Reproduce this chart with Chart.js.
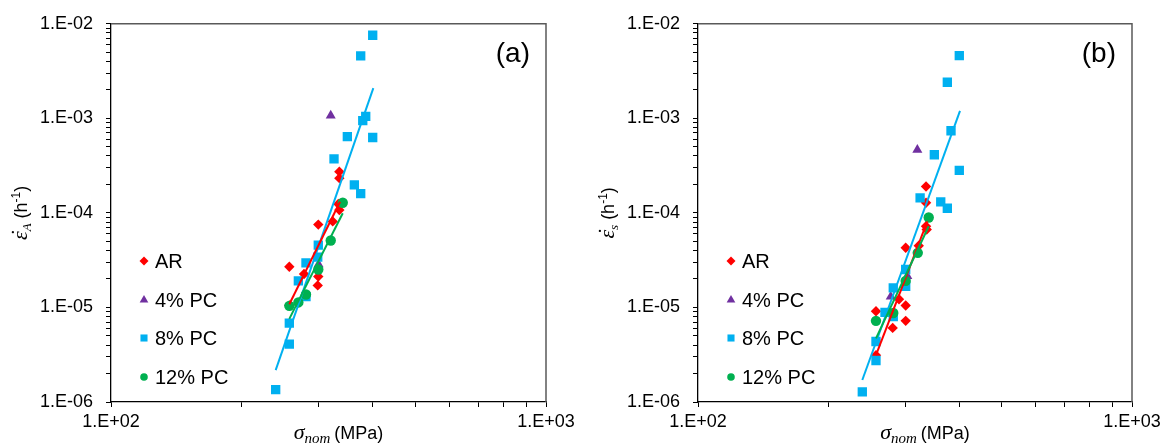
<!DOCTYPE html>
<html>
<head>
<meta charset="utf-8">
<script src="https://cdn.jsdelivr.net/npm/chart.js@4.4.1/dist/chart.umd.min.js"></script>
<style>
  html, body { margin: 0; padding: 0; background: #fff; }
  #wrap { position: relative; width: 1175px; height: 447px; }
  canvas { position: absolute; top: 0; }
</style>
</head>
<body>
<div id="wrap">
  <canvas id="chartA" width="587" height="447" style="left:0"></canvas>
  <canvas id="chartB" width="588" height="447" style="left:587px"></canvas>
</div>
<script>
// Серии (порядок как в легенде)
const seriesNames = ['AR', '4% PC', '8% PC', '12% PC'];
const seriesColors = ['#FF0000', '#7030A0', '#00B0F0', '#00B050'];
const seriesShapes = ['rectRot', 'triangle', 'rect', 'circle'];
const seriesRadius = [5.2, 5.8, 6.6, 5.2];

// Оси: декады (подписи только на них)
const xDecades = [2, 3];           // 1.E+02 .. 1.E+03
const yDecades = [-6, -5, -4, -3, -2];

// (a) точки [sigma_nom, скорость]
const aAR = [[257.0, 2.69e-5], [257.0, 1.05e-5], [277.8, 2.26e-5], [299.6, 7.52e-5],
  [299.6, 2.12e-5], [298.7, 1.71e-5], [323.4, 8.13e-5], [333.1, 1.24e-4],
  [334.9, 1.07e-4], [334.9, 2.73e-4], [334.9, 2.33e-4]];
const aPC4 = [[320.0, 1.07e-3], [300.0, 2.86e-5]];
const aPC8 = [[239.1, 1.35e-6], [257.0, 4.09e-6], [257.0, 6.84e-6], [269.6, 1.91e-5],
  [280.7, 2.96e-5], [280.7, 1.30e-5], [298.7, 3.41e-5], [299.6, 4.57e-5],
  [325.6, 3.72e-4], [349.4, 6.42e-4], [362.6, 1.98e-4], [375.0, 1.60e-4],
  [375.0, 4.57e-3], [399.6, 7.57e-3], [385.1, 1.05e-3], [379.1, 9.47e-4], [399.6, 6.27e-4]];
const aPC12 = [[257.0, 1.04e-5], [269.6, 1.13e-5], [280.7, 1.37e-5], [299.6, 2.52e-5],
  [320.0, 5.11e-5], [341.0, 1.28e-4]];
// (a) линии тренда (концы)
const aFitAR = [[257.0, 1.08e-5], [336.1, 1.31e-4]];
const aFitPC8 = [[239.1, 2.17e-6], [400.9, 2.09e-3]];
const aFitPC12 = [[257.0, 7.57e-6], [341.0, 9.93e-5]];

// (b) точки
const bAR = [[335.3, 1.90e-4], [335.3, 1.28e-4], [335.3, 7.22e-5], [336.5, 6.68e-5],
  [301.0, 4.28e-5], [322.6, 4.50e-5], [290.5, 1.22e-5], [301.0, 1.05e-5],
  [257.1, 9.10e-6], [301.0, 7.22e-6], [280.9, 6.08e-6], [257.1, 3.13e-6]];
const bPC4 = [[320.2, 4.65e-4], [278.0, 1.30e-5], [303.6, 2.15e-5]];
const bPC8 = [[400.0, 4.60e-3], [375.4, 2.41e-3], [382.8, 7.40e-4], [350.4, 4.12e-4],
  [400.0, 2.82e-4], [324.9, 1.44e-4], [362.5, 1.31e-4], [375.4, 1.12e-4],
  [301.0, 2.52e-5], [301.0, 1.67e-5], [281.8, 1.61e-5], [269.7, 8.88e-6],
  [281.8, 8.02e-6], [257.1, 4.36e-6], [257.1, 2.75e-6], [239.1, 1.28e-6]];
const bPC12 = [[340.1, 8.95e-5], [320.9, 3.78e-5], [301.0, 1.91e-5], [281.8, 8.73e-6],
  [257.1, 7.22e-6]];
// (b) линии тренда
const bFitAR = [[257.1, 3.13e-6], [337.6, 8.13e-5]];
const bFitPC8 = [[239.1, 1.71e-6], [401.5, 1.20e-3]];
const bFitPC12 = [[257.1, 4.71e-6], [340.1, 7.22e-5]];

const SANS = '"Liberation Sans", Arial, sans-serif';
const SERIF = '"Liberation Serif", "Times New Roman", serif';

function toXY(pts) {
  return pts.map(p => ({ x: p[0], y: p[1] }));
}

// 1..9 x 10^n между крайними декадами
function logTicks(decades) {
  const out = [];
  const lo = decades[0], hi = decades[decades.length - 1];
  for (let e = lo; e < hi; e++) {
    for (let m = 1; m < 10; m++) out.push({ value: m * Math.pow(10, e) });
  }
  out.push({ value: Math.pow(10, hi) });
  return out;
}

function fmtTick(v) {
  const l = Math.log10(v);
  const e = Math.round(l);
  if (Math.abs(l - e) > 1e-6) return '';
  return '1.E' + (e < 0 ? '-' : '+') + String(Math.abs(e)).padStart(2, '0');
}

// текст из кусков с разными шрифтами, центр по x
// over: рисуется над предыдущим куском, без сдвига
function drawRich(ctx, parts, cx, baseY) {
  let total = 0;
  parts.forEach(p => {
    ctx.font = p.font;
    p.w = ctx.measureText(p.t).width;
    if (!p.over) total += p.w + (p.gap || 0);
  });
  let x = cx - total / 2;
  let prev = null;
  ctx.textBaseline = 'alphabetic';
  parts.forEach(p => {
    ctx.font = p.font;
    if (p.over && prev) {
      ctx.textAlign = 'center';
      ctx.fillText(p.t, prev.x + prev.w / 2 + (p.dx || 0), baseY + (p.dy || 0));
      return;
    }
    ctx.textAlign = 'left';
    ctx.fillText(p.t, x, baseY + (p.dy || 0));
    prev = { x: x, w: p.w };
    x += p.w + (p.gap || 0);
  });
}

const decor = {
  id: 'decor',
  afterDraw(chart, args, opts) {
    const { ctx, chartArea: ca } = chart;
    ctx.save();
    // рамка сверху и справа
    ctx.strokeStyle = '#595959';
    ctx.lineWidth = 1.5;
    ctx.beginPath();
    ctx.moveTo(ca.left, ca.top);
    ctx.lineTo(ca.right, ca.top);
    ctx.lineTo(ca.right, ca.bottom);
    ctx.stroke();

    ctx.fillStyle = '#000';
    // (a) / (b)
    ctx.font = '28px ' + SANS;
    ctx.textAlign = 'right';
    ctx.textBaseline = 'middle';
    ctx.fillText(opts.label, ca.right - 16, ca.top + 30);

    // подпись оси X
    drawRich(ctx, [
      { t: 'σ', font: 'italic 22px ' + SERIF },
      { t: 'nom', font: 'italic 15px ' + SERIF, dy: 4, gap: 4 },
      { t: '(MPa)', font: '18px ' + SANS }
    ], (ca.left + ca.right) / 2 + 10, 439);

    // подпись оси Y (повёрнута)
    ctx.save();
    ctx.translate(27, (ca.top + ca.bottom) / 2);
    ctx.rotate(-Math.PI / 2);
    drawRich(ctx, [
      { t: 'ε', font: 'italic 22px ' + SERIF },
      { t: '˙', font: 'italic 22px ' + SERIF, over: true, dx: 2, dy: -1 },
      { t: opts.ySub, font: 'italic 13px ' + SERIF, dy: 4, gap: 5 },
      { t: '(h', font: '18px ' + SANS },
      { t: '-1', font: '12px ' + SANS, dy: -7 },
      { t: ')', font: '18px ' + SANS }
    ], 0, 0);
    ctx.restore();

    // легенда внутри области
    const rows = [261, 300, 338, 377];
    const legendR = [4.5, 5, 5, 3.8];
    ctx.font = '20px ' + SANS;
    ctx.textBaseline = 'middle';
    ctx.textAlign = 'left';
    seriesNames.forEach((name, i) => {
      const y = rows[i];
      ctx.fillStyle = seriesColors[i];
      Chart.helpers.drawPoint(ctx, { pointStyle: seriesShapes[i], radius: legendR[i], rotation: 0, borderWidth: 0 }, ca.left + 33, y);
      ctx.fillStyle = '#000';
      ctx.fillText(name, ca.left + 44, y + 1);
    });
    ctx.restore();
  }
};

function makePanel(canvasId, series, fits, label, ySub, rightPad) {
  const datasets = series.map((pts, i) => ({
    label: seriesNames[i],
    data: toXY(pts),
    pointStyle: seriesShapes[i],
    pointRadius: seriesRadius[i],
    pointHoverRadius: seriesRadius[i],
    backgroundColor: seriesColors[i],
    borderColor: seriesColors[i],
    borderWidth: 0,
    order: 10 - i
  }));
  fits.forEach((f, k) => {
    datasets.push({
      label: 'fit ' + k,
      data: toXY(f.pts),
      showLine: true,
      pointRadius: 0,
      borderColor: f.color,
      borderWidth: 2,
      order: 2 - k
    });
  });

  new Chart(document.getElementById(canvasId), {
    type: 'scatter',
    data: { datasets: datasets },
    options: {
      responsive: false,
      animation: false,
      events: [],
      layout: { padding: { top: 14, right: rightPad, left: 0, bottom: 0 } },
      plugins: {
        legend: { display: false },
        tooltip: { enabled: false },
        decor: { label: label, ySub: ySub }
      },
      scales: {
        x: {
          type: 'logarithmic',
          min: 100, max: 1000,
          afterBuildTicks: s => { s.ticks = logTicks(xDecades); },
          afterFit: s => { s.height = 45; },
          ticks: { autoSkip: false, maxRotation: 0, padding: 4, color: '#000',
                   font: { family: SANS, size: 18 }, callback: v => fmtTick(v) },
          grid: { drawOnChartArea: false, drawTicks: true, tickLength: 5, color: '#000', lineWidth: 1 },
          border: { color: '#000', width: 1.3 }
        },
        y: {
          type: 'logarithmic',
          min: 1e-6, max: 1e-2,
          afterBuildTicks: s => { s.ticks = logTicks(yDecades); },
          afterFit: s => { s.width = 111; },
          ticks: { autoSkip: false, padding: 13, color: '#000',
                   font: { family: SANS, size: 18 }, callback: v => fmtTick(v) },
          grid: { drawOnChartArea: false, drawTicks: true, tickLength: 5, color: '#000', lineWidth: 1 },
          border: { color: '#000', width: 1.3 }
        }
      }
    },
    plugins: [decor]
  });
}

makePanel('chartA', [aAR, aPC4, aPC8, aPC12], [
  { pts: aFitPC8, color: '#00B0F0' },
  { pts: aFitAR, color: '#FF0000' },
  { pts: aFitPC12, color: '#00B050' }
], '(a)', 'A', 41);

makePanel('chartB', [bAR, bPC4, bPC8, bPC12], [
  { pts: bFitPC8, color: '#00B0F0' },
  { pts: bFitAR, color: '#FF0000' },
  { pts: bFitPC12, color: '#00B050' }
], '(b)', 's', 43);
</script>
</body>
</html>
